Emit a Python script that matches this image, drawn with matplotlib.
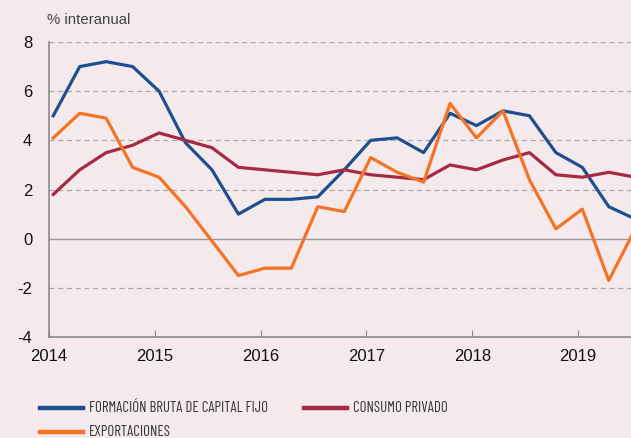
import matplotlib
matplotlib.use('Agg')
import matplotlib.pyplot as plt
from matplotlib.lines import Line2D

plt.rcParams['font.family'] = ['Liberation Sans', 'DejaVu Sans']
plt.rcParams['axes.unicode_minus'] = False

# Trimestres 2014 T1 - 2019 T3 (el último sale del cuadro)
trimestres = [2014 + 0.04 + 0.25 * i for i in range(23)]

fbcf = [5.0, 7.0, 7.2, 7.0, 6.0, 3.9, 2.8, 1.0, 1.6, 1.6, 1.7, 2.8,
        4.0, 4.1, 3.5, 5.1, 4.6, 5.2, 5.0, 3.5, 2.9, 1.3, 0.8]
consumo = [1.8, 2.8, 3.5, 3.8, 4.3, 4.0, 3.7, 2.9, 2.8, 2.7, 2.6, 2.8,
           2.6, 2.5, 2.4, 3.0, 2.8, 3.2, 3.5, 2.6, 2.5, 2.7, 2.5]
exportaciones = [4.1, 5.1, 4.9, 2.9, 2.5, 1.3, -0.1, -1.5, -1.2, -1.2, 1.3, 1.1,
                 3.3, 2.7, 2.3, 5.5, 4.1, 5.2, 2.4, 0.4, 1.2, -1.7, 0.4]

anios = [2014, 2015, 2016, 2017, 2018, 2019]
yticks = [-4, -2, 0, 2, 4, 6, 8]

fondo = '#F5EAEB'
azul = '#1D4F91'
granate = '#A52A44'
naranja = '#F57226'
gris = '#8A8A8A'

fig = plt.figure(figsize=(6.31, 4.38), dpi=100, facecolor=fondo)
ax = fig.add_axes([0.0777, 0.2306, 0.9223, 0.6735], facecolor=fondo)

# Rejilla
for v in yticks:
    if v == 0:
        ax.axhline(v, color='#999999', lw=1.0, zorder=1)
    elif v != -4:
        ax.axhline(v, color='#AAAAAA', lw=0.9, ls=(0, (4, 3)), zorder=1)

ax.plot(trimestres, fbcf, color=azul, lw=2.3, zorder=3)
ax.plot(trimestres, consumo, color=granate, lw=2.3, zorder=3)
ax.plot(trimestres, exportaciones, color=naranja, lw=2.3, zorder=4)

ax.set_xlim(2014, 2019.5)
ax.set_ylim(-4, 8)
ax.set_yticks(yticks)
ax.set_xticks(anios)
ax.set_xticklabels([str(a) for a in anios])

for s in ['top', 'right']:
    ax.spines[s].set_visible(False)
for s in ['left', 'bottom']:
    ax.spines[s].set_color(gris)
    ax.spines[s].set_linewidth(1.2)

ax.tick_params(axis='y', length=0, pad=12, labelsize=12, labelcolor='#111111')
ax.tick_params(axis='x', direction='in', length=5, color=gris, pad=9,
               labelsize=12, labelcolor='#111111')

fig.text(0.074, 0.945, '% interanual', fontsize=10.8, color='#444444')

# Leyenda manual
fuente_ley = ['Barlow Condensed', 'DejaVu Sans']
items = [
    (40, 408, azul, 'FORMACIÓN BRUTA DE CAPITAL FIJO'),
    (304, 408, granate, 'CONSUMO PRIVADO'),
    (40, 432, naranja, 'EXPORTACIONES'),
]
W, H = 631, 438
for x0, y0, c, txt in items:
    fig.add_artist(Line2D([x0 / W, (x0 + 43) / W], [1 - y0 / H, 1 - y0 / H],
                          color=c, lw=3.2, transform=fig.transFigure))
    fig.text((x0 + 49) / W, 1 - y0 / H, txt, fontsize=10.7, color='#333333',
             va='center', family=fuente_ley)

fig.savefig('out.png', dpi=100, facecolor=fondo)
